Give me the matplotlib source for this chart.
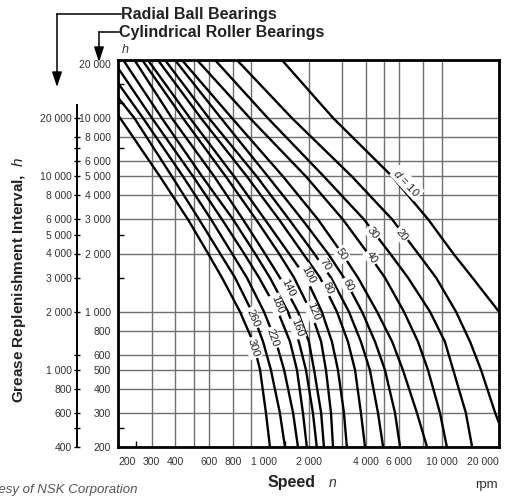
#!/usr/bin/env python3

import matplotlib
matplotlib.use('Agg')
import matplotlib.pyplot as plt
from matplotlib.lines import Line2D
from matplotlib.ticker import FixedLocator, NullFormatter

plt.rcParams['font.family'] = ['Liberation Sans', 'DejaVu Sans']
plt.rcParams['mathtext.fontset'] = 'custom'
plt.rcParams['mathtext.rm'] = 'Liberation Sans'
plt.rcParams['mathtext.it'] = 'Liberation Sans:italic'

# Replenishment interval levels (h, cylindrical roller scale) where curves were read.
hours = [20000, 10000, 5000, 3000, 2000, 1500, 1000, 700, 500, 300, 200]

# Speed (rpm) of each bore-diameter curve at the hour levels above.
speed_d10 = [1450, 2700, 5500, 8500, 11500, 14500, 20000]
hours_d10 = [20000, 10000, 5000, 3000, 2000, 1500, 1000]
speed_d20 = [842, 1640, 3380, 5500, 7514, 9350, 11900, 14100, 16100, 19100, 20000]
hours_d20 = [20000, 10000, 5000, 3000, 2000, 1500, 1000, 700, 500, 300, 266]
speed_d30 = [646, 1225, 2410, 3910, 5360, 6657, 8690, 10400, 11500, 13400, 14450]
speed_d40 = [520, 986, 1940, 3030, 4104, 5040, 6340, 7514, 8480, 9800, 10650]
speed_d50 = [433, 794, 1470, 2243, 3000, 3637, 4580, 5500, 6260, 7420, 8380]
speed_d60 = [398, 695, 1225, 1850, 2530, 3070, 3820, 4470, 5040, 5690, 6050]
speed_d70 = [353, 601, 1070, 1580, 2140, 2625, 3260, 3770, 4200, 4632, 4930]
speed_d80 = [324, 546, 950, 1400, 1870, 2300, 2820, 3222, 3510, 3770, 3960]
speed_d100 = [287, 478, 814, 1180, 1580, 1940, 2350, 2655, 2856, 3070, 3180]
speed_d120 = [268, 439, 736, 1060, 1400, 1680, 2060, 2330, 2470, 2625, 2690]
speed_d140 = [244, 384, 640, 906, 1180, 1415, 1761, 2010, 2140, 2330, 2410]
speed_d160 = [213, 340, 553, 804, 1048, 1255, 1560, 1780, 1940, 2110, 2210]
speed_d180 = [200, 302, 496, 703, 918, 1100, 1383, 1600, 1740, 1870, 1960]
hours_d180 = [18200] + hours[1:]
speed_d220 = [200, 271, 439, 616, 794, 950, 1168, 1350, 1490, 1660, 1761]
hours_d220 = [15200] + hours[1:]
speed_d260 = [200, 244, 384, 533, 687, 823, 1010, 1155, 1270, 1415, 1505]
hours_d260 = [12800] + hours[1:]
speed_d300 = [200, 332, 466, 594, 703, 874, 1022, 1114, 1196, 1255]
hours_d300 = [10400] + hours[2:]

curves = [
    (speed_d10, hours_d10), (speed_d20, hours_d20), (speed_d30, hours),
    (speed_d40, hours), (speed_d50, hours), (speed_d60, hours),
    (speed_d70, hours), (speed_d80, hours), (speed_d100, hours),
    (speed_d120, hours), (speed_d140, hours), (speed_d160, hours),
    (speed_d180, hours_d180), (speed_d220, hours_d220),
    (speed_d260, hours_d260), (speed_d300, hours_d300),
]

# Curve labels: text, speed, hours, rotation.
label_text = [r'$d$ = 10', '20', '30', '40', '50', '60', '70', '80',
              '100', '120', '140', '160', '180', '220', '260', '300']
label_speed = [6580, 6190, 4360, 4310, 3000, 3222, 2440, 2530,
               1987, 2110, 1560, 1740, 1366, 1288, 1022, 1022]
label_hours = [4640, 2500, 2555, 1920, 1970, 1377, 1746, 1328,
               1550, 998, 1328, 824, 1084, 732, 929, 650]
label_rot = [-47, -52, -52, -56, -55, -62, -57, -63,
             -62, -68, -63, -70, -68, -70, -66, -72]

# Axis ticks.
x_grid = [200, 300, 400, 500, 600, 800, 1000, 2000, 3000, 4000, 5000, 6000, 8000, 10000, 20000]
x_labels = ['200', '300', '400', '', '600', '800', '1 000', '2 000', '', '4 000', '',
            '6 000', '', '10 000', '20 000']
x_minor = [250, 1500]
y_grid = [200, 300, 400, 500, 600, 800, 1000, 2000, 3000, 4000, 5000, 6000, 8000, 10000, 20000]
y_labels = ['200', '300', '400', '500', '600', '800', '1 000', '2 000', '3 000', '4 000',
            '5 000', '6 000', '8 000', '10 000', '20 000']
y_minor = [250, 1500, 2500, 7000, 12000, 15000]

# Radial ball bearing scale (twice the cylindrical roller interval).
ball_ticks = [400, 600, 800, 1000, 2000, 3000, 4000, 5000, 6000, 8000, 10000, 20000]
ball_labels = ['400', '600', '800', '1 000', '2 000', '3 000', '4 000', '5 000',
               '6 000', '8 000', '10 000', '20 000']
ball_minor = [500, 1200, 12000, 14000, 16000]

W, H = 511, 497
TXT = '#333333'


def fxy(x, y):
    '''Figure-fraction coordinates from reference pixel position.'''
    return x / W, 1 - y / H


def draw_annotations(fig):
    fig.text(*fxy(121, 14), 'Radial Ball Bearings', ha='left', va='center',
             fontsize=11.5, weight='bold', color='#222222')
    fig.text(*fxy(119, 32), 'Cylindrical Roller Bearings', ha='left', va='center',
             fontsize=11.5, weight='bold', color='#222222')
    fig.add_artist(Line2D([fxy(121, 0)[0], fxy(57, 0)[0]], [fxy(0, 14)[1]] * 2,
                          transform=fig.transFigure, color='k', lw=1.1))
    fig.add_artist(Line2D([fxy(119, 0)[0], fxy(99, 0)[0]], [fxy(0, 32)[1]] * 2,
                          transform=fig.transFigure, color='k', lw=1.1))
    arrow = dict(arrowstyle='-|>,head_length=0.9,head_width=0.3', color='k', lw=1.1,
                 shrinkA=0, shrinkB=0)
    fig.axes[0].annotate('', xy=fxy(57, 87), xycoords='figure fraction',
                         xytext=fxy(57, 14), textcoords='figure fraction', arrowprops=arrow)
    fig.axes[0].annotate('', xy=fxy(99, 62), xycoords='figure fraction',
                         xytext=fxy(99, 32), textcoords='figure fraction', arrowprops=arrow)
    fig.text(*fxy(125, 50), 'h', ha='center', va='center', fontsize=9, style='italic', color=TXT)

    fig.text(*fxy(19, 280), r'Grease Replenishment Interval,  $h$', rotation=90,
             ha='center', va='center', fontsize=11, weight='bold', color='#222222')
    fig.text(*fxy(292, 483), 'Speed', ha='center', va='center', fontsize=11.5,
             weight='bold', color='#222222')
    fig.text(*fxy(333, 483), 'n', ha='center', va='center', fontsize=10,
             style='italic', color=TXT)
    fig.text(*fxy(498, 485), 'rpm', ha='right', va='center', fontsize=9.5, color=TXT)
    # Credit line is cut by the left edge in the original.
    fig.text(*fxy(137, 490), 'Courtesy of NSK Corporation', ha='right', va='center',
             fontsize=9.5, style='italic', color='#555555')


def main():
    fig = plt.figure(figsize=(W / 100, H / 100), dpi=100)
    ax = fig.add_axes([118 / W, 1 - 447 / H, 381 / W, 387 / H])
    ax.set_xscale('log')
    ax.set_yscale('log')
    ax.set_xlim(200, 20000)
    ax.set_ylim(200, 20000)

    for speed, hrs in curves:
        ax.plot(speed, hrs, color='k', lw=1.7, solid_capstyle='butt', zorder=3)

    for text, n, h, rot in zip(label_text, label_speed, label_hours, label_rot):
        ax.text(n, h, text, rotation=rot, rotation_mode='anchor', ha='center', va='center',
                fontsize=8, color='#222222', zorder=5,
                bbox=dict(boxstyle='square,pad=0.15', fc='white', ec='none'))

    ax.set_xticks(x_grid, x_labels)
    ax.set_yticks(y_grid, y_labels)
    ax.xaxis.set_minor_locator(FixedLocator(x_minor))
    ax.yaxis.set_minor_locator(FixedLocator(y_minor))
    ax.xaxis.set_minor_formatter(NullFormatter())
    ax.yaxis.set_minor_formatter(NullFormatter())
    ax.tick_params(which='major', length=0, labelsize=7.5, labelcolor=TXT)
    ax.tick_params(axis='x', which='major', pad=7)
    ax.tick_params(axis='y', which='major', pad=5)
    ax.tick_params(which='minor', direction='in', length=4, width=1, color='k')
    ax.grid(which='major', color='#707070', lw=1.0, zorder=1)
    ax.set_axisbelow(True)
    for spine in ax.spines.values():
        spine.set_linewidth(2.0)
        spine.set_zorder(6)

    # Edge labels hug the frame like the original.
    xl = ax.get_xticklabels()
    xl[0].set_ha('left')
    xl[6].set_ha('left')
    xl[-1].set_ha('right')
    ax.get_yticklabels()[-1].set_va('top')

    # Outer scale for radial ball bearings.
    sec = ax.secondary_yaxis(-41 / 381, functions=(lambda h: 2 * h, lambda h: h / 2))
    sec.set_yticks(ball_ticks, ball_labels)
    sec.yaxis.set_minor_locator(FixedLocator(ball_minor))
    sec.yaxis.set_minor_formatter(NullFormatter())
    sec.tick_params(which='major', direction='inout', length=5, width=1.0, pad=1,
                    labelsize=7.5, labelcolor=TXT)
    sec.tick_params(which='minor', direction='inout', length=4, width=1.0)
    sec.spines['left'].set_linewidth(1.4)
    sec.spines['left'].set_bounds(400, 23500)

    draw_annotations(fig)

    fig.savefig('out.png', dpi=100)


if __name__ == '__main__':
    main()
